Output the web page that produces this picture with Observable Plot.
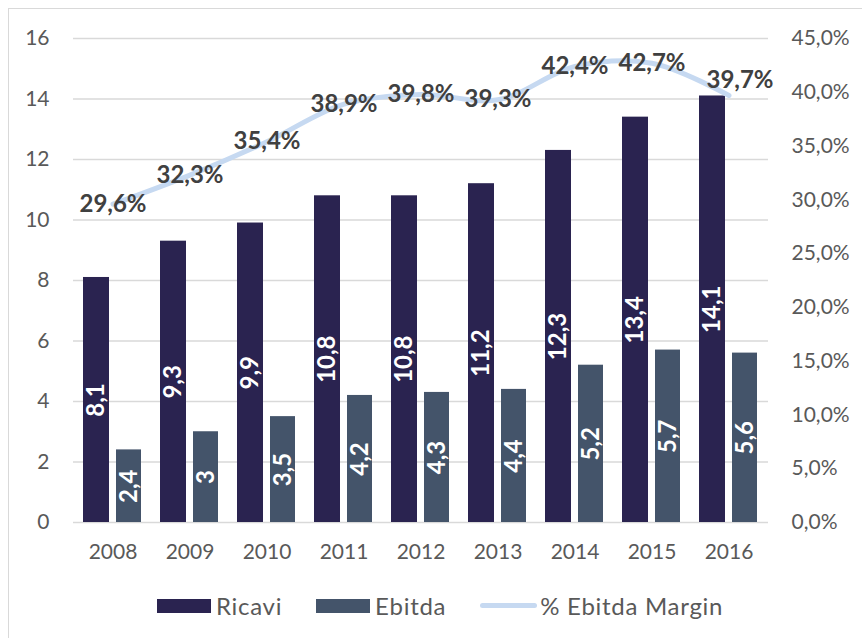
<!DOCTYPE html>
<html><head><meta charset="utf-8">
<script src="https://cdn.jsdelivr.net/npm/d3@7"></script>
<script src="https://cdn.jsdelivr.net/npm/@observablehq/plot@0.6"></script>
<style>
body{margin:0;background:#fff;font-family:Lato,sans-serif;width:862px;height:638px;overflow:hidden;position:relative;}
#frame{position:absolute;left:8px;top:8px;width:900px;height:700px;border:1.5px solid #d9d9d9;}
#chart{position:absolute;left:0;top:0;}
#legend{position:absolute;left:157px;top:591px;display:flex;align-items:center;font-size:24px;color:#595959;font-family:Lato,sans-serif;letter-spacing:0.7px;}
.sw{display:inline-block;width:54px;height:14px;margin-right:5px;}
.ln{display:inline-block;width:57px;height:5px;border-radius:3px;margin-right:3px;}
.item{display:flex;align-items:center;}
</style></head>
<body>
<div id="frame"></div>
<div id="chart"></div>
<div id="legend"></div>
<script>
const years = ["2008","2009","2010","2011","2012","2013","2014","2015","2016"];
const ricavi = [8.1, 9.3, 9.9, 10.8, 10.8, 11.2, 12.3, 13.4, 14.1];
const ebitda = [2.4, 3, 3.5, 4.2, 4.3, 4.4, 5.2, 5.7, 5.6];
const marginPct = [29.6, 32.3, 35.4, 38.9, 39.8, 39.3, 42.4, 42.7, 39.7];
const leftTicks = [0, 2, 4, 6, 8, 10, 12, 14, 16];
const rightTicks = [0, 5, 10, 15, 20, 25, 30, 35, 40, 45];
const seriesNames = ["Ricavi", "Ebitda", "% Ebitda Margin"];
const colors = ["#2a2350", "#44546a", "#c6d9f1"];

const k = 16 / 45; // right axis (%) mapped onto left axis
const rows = years.map((y, i) => ({year: y, ricavi: ricavi[i], ebitda: ebitda[i], margin: marginPct[i]}));
const fmt = v => String(v).replace(".", ",");
const fmtPct = v => v.toFixed(1).replace(".", ",") + "%";
const last = rows.length - 1;

const chart = Plot.plot({
  width: 862, height: 575,
  marginLeft: 73, marginRight: 94, marginTop: 38, marginBottom: 53,
  x: {domain: years, padding: 0, label: null},
  y: {domain: [0, 16], label: null},
  style: {fontFamily: "Lato, sans-serif", fontSize: "21px", color: "#595959", background: "transparent", overflow: "visible"},
  marks: [
    Plot.gridY(leftTicks, {stroke: "#d9d9d9", strokeOpacity: 1, strokeWidth: 1.3}),
    Plot.axisY(leftTicks, {tickSize: 0, tickPadding: 24, label: null, fontSize: 21}),
    Plot.axisY(rightTicks.map(t => t * k), {anchor: "right", tickSize: 0, tickPadding: 23, label: null, fontSize: 21,
      tickFormat: d => fmtPct(Math.round(d / k * 10) / 10)}),
    Plot.axisX({tickSize: 0, tickPadding: 22, label: null, fontSize: 21}),
    Plot.barY(rows, {x: "year", y: "ricavi", fill: colors[0], insetLeft: 9, insetRight: 42}),
    Plot.barY(rows, {x: "year", y: "ebitda", fill: colors[1], insetLeft: 42, insetRight: 10}),
    Plot.text(rows, {x: "year", y: d => d.ricavi / 2, text: d => fmt(d.ricavi), rotate: -90, dx: -16.5,
      fill: "white", fontWeight: "bold", fontSize: 24, letterSpacing: "1.5px"}),
    Plot.text(rows, {x: "year", y: d => d.ebitda / 2, text: d => fmt(d.ebitda), rotate: -90, dx: 16,
      fill: "white", fontWeight: "bold", fontSize: 24, letterSpacing: "1.5px"}),
    Plot.line(rows, {x: "year", y: d => d.margin * k, stroke: colors[2], strokeWidth: 5, curve: "catmull-rom", strokeLinecap: "round"}),
    Plot.text(rows.slice(0, last), {x: "year", y: d => d.margin * k, text: d => fmt(d.margin) + "%",
      fill: "#404040", fontWeight: "bold", fontSize: 24, letterSpacing: "1.2px"}),
    Plot.text(rows.slice(last), {x: "year", y: d => d.margin * k, text: d => fmt(d.margin) + "%", dx: 11, dy: -15,
      fill: "#404040", fontWeight: "bold", fontSize: 24, letterSpacing: "1.2px"})
  ]
});
document.getElementById("chart").appendChild(chart);

const legend = document.getElementById("legend");
seriesNames.forEach((name, i) => {
  const item = document.createElement("div");
  item.className = "item";
  item.style.marginRight = i < 2 ? "34px" : "0";
  const sw = document.createElement("span");
  sw.className = i < 2 ? "sw" : "ln";
  sw.style.background = colors[i];
  const t = document.createElement("span");
  t.textContent = name;
  item.appendChild(sw); item.appendChild(t);
  legend.appendChild(item);
});
</script>
</body></html>
